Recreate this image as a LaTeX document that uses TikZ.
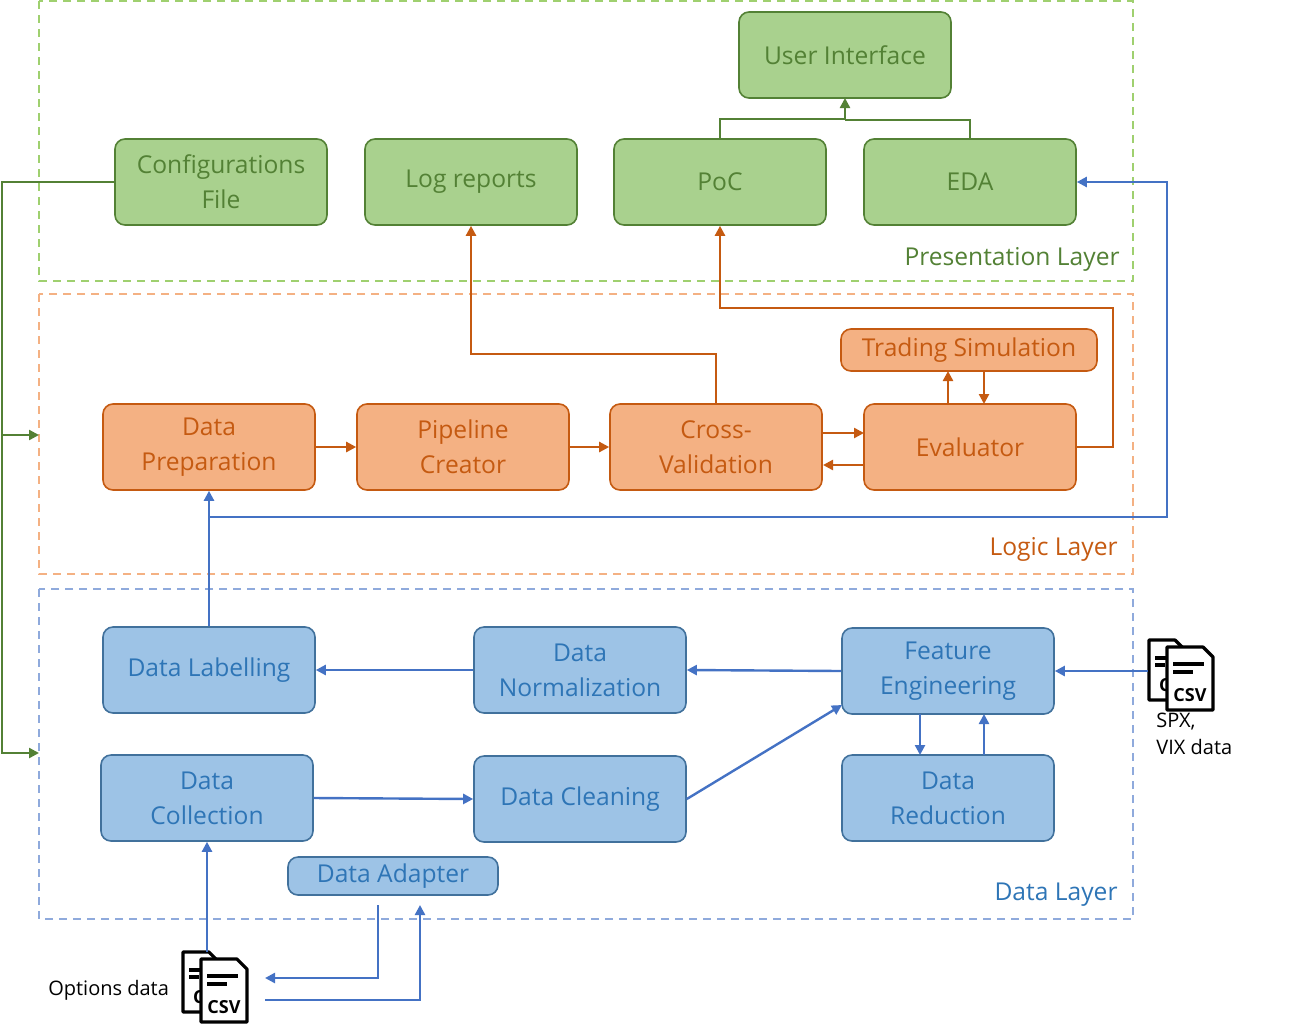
\documentclass[tikz,border=0pt]{standalone}
\usepackage{fontspec}
\setmainfont{Open Sans}
\usetikzlibrary{arrows.meta}
\definecolor{gF}{HTML}{A9D18E}\definecolor{gD}{HTML}{538135}
\definecolor{oF}{HTML}{F4B183}\definecolor{oD}{HTML}{C55A11}
\definecolor{bF}{HTML}{9DC3E6}\definecolor{bD}{HTML}{41719C}\definecolor{bT}{HTML}{2E75B6}\definecolor{bL}{HTML}{4472C4}
\definecolor{gL}{HTML}{9FD06F}\definecolor{bLay}{HTML}{8FAADC}
\begin{document}
\begin{tikzpicture}[x=0.5pt,y=-0.5pt,font=\fontsize{12.3}{17.5}\selectfont,
 box/.style={rounded corners=5pt,line width=0.8pt,align=center,inner sep=0pt},
 gbox/.style={box,fill=gF,draw=gD,text=gD},
 obox/.style={box,fill=oF,draw=oD,text=oD},
 bbox/.style={box,fill=bF,draw=bD,text=bT},
 lay/.style={dash pattern=on 4pt off 3pt,line width=1pt},
 ga/.style={draw=gD,line width=1.2pt,-{Triangle[length=5pt,width=5pt]}},
 oa/.style={draw=oD,line width=1.2pt,-{Triangle[length=5pt,width=5pt]}},
 ba/.style={draw=bL,line width=1.2pt,-{Triangle[length=5pt,width=5pt]}},
 csv/.pic={
  \draw[fill=white,line width=1.6pt,line join=round] (0,0)--(26,0)--(36,10)--(36,60)--(0,60)--cycle;
  \draw[line width=1.6pt] (6,18)--(20,18) (6,25)--(16,25);
  \node[font=\bfseries\fontsize{9}{9}\selectfont,anchor=west] at (3,45) {C};
  \draw[fill=white,line width=1.6pt,line join=round] (18,7)--(54,7)--(64,17)--(64,70)--(18,70)--cycle;
  \draw[line width=1.6pt] (24,24)--(55,24) (24,32)--(44,32);
  \node[font=\bfseries\fontsize{9}{9}\selectfont] at (41,55) {CSV};
 }]
\useasboundingbox (0,0) rectangle (1299,1023);
% layers
\draw[lay,draw=gL] (39,1) rectangle (1133,281);
\draw[lay,draw=oF] (39,294) rectangle (1133,574);
\draw[lay,draw=bLay] (39,589) rectangle (1133,919);
\node[text=gD,anchor=east,inner sep=0pt] (pl) at (1120,259) {Presentation Layer};
\node[text=oD,anchor=east,inner sep=0pt] (ll) at (1118,549) {Logic Layer};
\node[text=bT,anchor=east,inner sep=0pt] (dl) at (1118,895) {Data Layer};
% presentation
\node[gbox,minimum width=106pt,minimum height=43pt] (ui) at (845,55) {User Interface};
\node[gbox,minimum width=106pt,minimum height=43pt] (cf) at (221,182) {Configurations\\File};
\node[gbox,minimum width=106pt,minimum height=43pt] (lr) at (471,182) {Log reports};
\node[gbox,minimum width=106pt,minimum height=43pt] (poc) at (720,182) {PoC};
\node[gbox,minimum width=106pt,minimum height=43pt] (eda) at (970,182) {EDA};
% logic
\node[obox,minimum width=128pt,minimum height=21pt] (ts) at (969,350) {Trading Simulation};
\node[obox,minimum width=106pt,minimum height=43pt] (dp) at (209,447) {Data\\Preparation};
\node[obox,minimum width=106pt,minimum height=43pt] (pc) at (463,447) {Pipeline\\Creator};
\node[obox,minimum width=106pt,minimum height=43pt] (cv) at (716,447) {Cross-\\Validation};
\node[obox,minimum width=106pt,minimum height=43pt] (ev) at (970,447) {Evaluator};
% data
\node[bbox,minimum width=106pt,minimum height=43pt] (lab) at (209,670) {Data Labelling};
\node[bbox,minimum width=106pt,minimum height=43pt] (nor) at (580,670) {Data\\Normalization};
\node[bbox,minimum width=106pt,minimum height=43pt] (fe) at (948,671) {Feature\\Engineering};
\node[bbox,minimum width=106pt,minimum height=43pt] (col) at (207,798) {Data\\Collection};
\node[bbox,minimum width=106pt,minimum height=43pt] (cle) at (580,799) {Data Cleaning};
\node[bbox,minimum width=106pt,minimum height=43pt] (red) at (948,798) {Data\\Reduction};
\node[bbox,minimum width=105pt,minimum height=19pt] (ad) at (393,876) {Data Adapter};
% icons
\pic at (183,952) {csv};
\pic at (1149,640) {csv};
\coordinate (csv1) at (207,952);
\coordinate (csv2) at (1148,671);
\node[anchor=east,font=\fontsize{10}{12}\selectfont] (od) at (176,990) {Options data};
\node[anchor=north west,align=left,inner sep=0pt,font=\fontsize{10}{13.5}\selectfont] (spx) at (1156,713) {SPX,\\VIX data};
% green connectors
\draw[ga] (poc.north) -- ++(0,-19) -| (845,98);
\draw[draw=gD,line width=1.2pt] (970,139) |- (845,120);
\coordinate (g1) at (39,435); \coordinate (g2) at (39,753);
\draw[ga] (cf.west) -| (2,753) -- (g2);
\draw[ga] (2,435) -- (g1);
% orange
\draw[oa] (cv.north) |- (471,354) -- (lr.south);
\draw[oa] (ev.east) -- (1113,447) |- (720,308) -- (poc.south);
\draw[oa] (948,404) -- (948,371);
\draw[oa] (984,371) -- (984,404);
\draw[oa] (dp.east) -- (pc.west);
\draw[oa] (pc.east) -- (cv.west);
\draw[oa] (823,433) -- (864,433);
\draw[oa] (864,465) -- (823,465);
% blue
\draw[ba] (lab.north) -- (dp.south);
\draw[ba] (209,517) -- (1167,517) |- (eda.east);
\draw[ba] (nor.west) -- (lab.east);
\draw[ba] (fe.west) -- (nor.east);
\draw[ba] (csv2) -- (fe.east);
\draw[ba] (920,714) -- (920,755);
\draw[ba] (984,755) -- (984,714);
\draw[ba] (col.east) -- (cle.west);
\draw[ba] (cle.east) -- (842,705);
\draw[ba] (csv1) -- (col.south);
\draw[ba] (378,905) |- (265,978);
\draw[ba] (265,1000) -| (420,905);
\end{tikzpicture}
\end{document}
